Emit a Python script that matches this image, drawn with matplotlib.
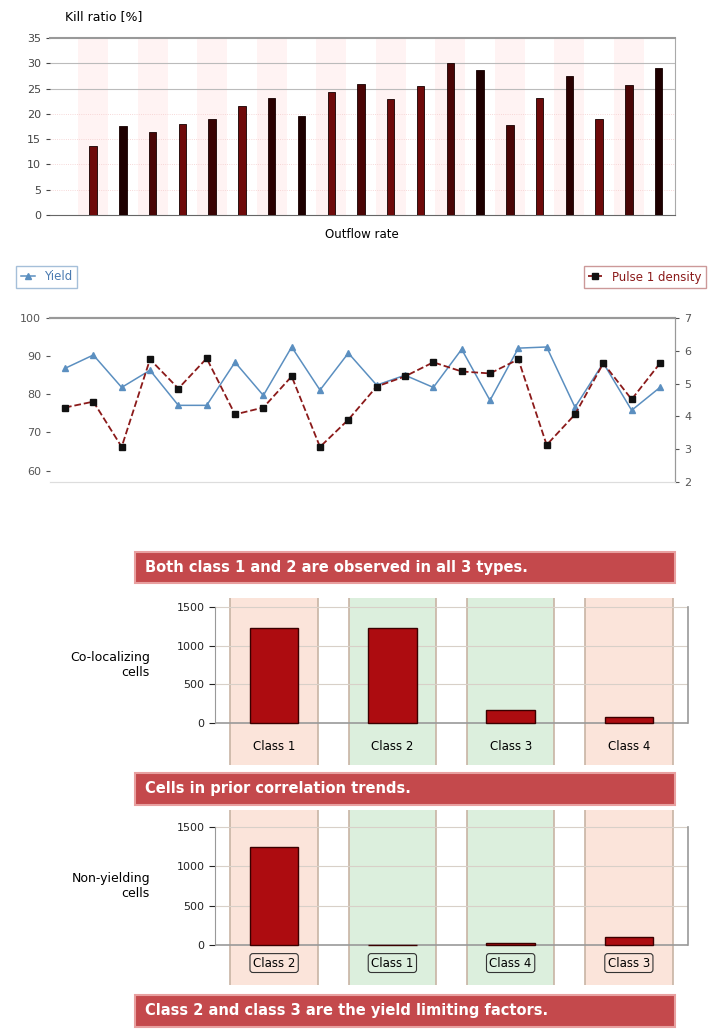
import matplotlib.pyplot as plt
from matplotlib.patches import Rectangle
import numpy as np

# top chart: kill ratio per sample
kill_ratio = [13.6, 17.6, 16.4, 18.0, 19.0, 21.6, 23.2, 19.6, 24.4, 26.0,
              23.0, 25.6, 30.0, 28.6, 17.8, 23.2, 27.4, 19.0, 25.8, 29.0]
bar_colors = ['#6e0a0a', '#1e0000', '#4a0505', '#6e0a0a', '#3a0303', '#6e0a0a', '#2a0000',
              '#1e0000', '#6e0a0a', '#4a0505', '#6e0a0a', '#6e0a0a', '#4a0505', '#1e0000',
              '#4a0505', '#6e0a0a', '#2a0000', '#6e0a0a', '#4a0505', '#1e0000']

# middle chart: yield (left axis) and pulse 1 density (right axis)
yield_vals = [86.8, 90.3, 81.8, 86.3, 77.1, 77.1, 88.4, 79.7, 92.4, 81.1, 90.8,
              82.4, 85.0, 81.8, 91.8, 78.4, 92.1, 92.4, 76.6, 88.2, 75.8, 81.8]
density_vals = [4.27, 4.45, 3.07, 5.74, 4.85, 5.77, 4.06, 4.27, 5.22, 3.07, 3.90,
                4.91, 5.22, 5.65, 5.37, 5.31, 5.74, 3.13, 4.06, 5.62, 4.52, 5.62]

# bottom panels
classes_top = ['Class 1', 'Class 2', 'Class 3', 'Class 4']
coloc_cells = [1230, 1230, 170, 80]
classes_bot = ['Class 2', 'Class 1', 'Class 4', 'Class 3']
nonyield_cells = [1246, 0, 25, 100]
col_colors = ['#fbe4da', '#dcefdd', '#dcefdd', '#fbe4da']
banners = ['Both class 1 and 2 are observed in all 3 types.',
           'Cells in prior correlation trends.',
           'Class 2 and class 3 are the yield limiting factors.']

W, H = 720, 1029
fig = plt.figure(figsize=(7.2, 10.29), dpi=100)


def box(l, t, r, b):
    return [l / W, 1 - b / H, (r - l) / W, (b - t) / H]


# ---------- top bar chart ----------
ax1 = fig.add_axes(box(50, 38, 675, 215))
x1 = np.arange(len(kill_ratio))
ax1.bar(x1, kill_ratio, width=0.25, color=bar_colors, edgecolor='#150000', linewidth=0.6, zorder=3)
ax1.set_xlim(-1.45, 19.55)
ax1.set_ylim(0, 35)
ax1.set_yticks(range(0, 36, 5))
ax1.tick_params(axis='y', labelsize=8, length=3, colors='#444444')
ax1.set_xticks([])
for y in [25, 30]:
    ax1.axhline(y, color='#bbbbbb', lw=0.8, zorder=1)
for y in [5, 10, 15, 20]:
    ax1.axhline(y, color='#f4cccc', lw=0.6, ls=':', zorder=1)
for xi in x1:
    if xi % 2 == 0:
        ax1.axvspan(xi - 0.5, xi + 0.5, color='#fff3f3', zorder=0, lw=0)
ax1.spines['left'].set_visible(False)
ax1.spines['top'].set_color('#999999')
ax1.spines['top'].set_linewidth(1.5)
ax1.spines['bottom'].set_color('#666666')
ax1.spines['right'].set_color('#aaaaaa')
fig.text(65 / W, 1 - 17 / H, 'Kill ratio [%]', fontsize=9, va='center')
fig.text(362 / W, 1 - 235 / H, 'Outflow rate', fontsize=8.5, ha='center', va='center')

# ---------- middle line chart ----------
ax2 = fig.add_axes(box(50, 318, 675, 482))
x2 = np.arange(len(yield_vals))
l1, = ax2.plot(x2, yield_vals, '-^', color='#5b8fc0', ms=4, lw=1.1, label='Yield', zorder=3)
ax2.set_ylim(57, 100)
ax2.set_yticks([60, 70, 80, 90, 100])
ax2.set_xlim(-0.53, 21.53)
ax2.set_xticks([])
ax2.tick_params(axis='y', labelsize=8, length=3, colors='#555555')
ax2b = ax2.twinx()
l2, = ax2b.plot(x2, density_vals, '--s', color='#8b1a1a', mfc='#111111', mec='#111111',
                ms=4, lw=1.3, label='Pulse 1 density', zorder=4)
ax2b.set_ylim(2, 7)
ax2b.set_yticks(range(2, 8))
ax2b.tick_params(axis='y', labelsize=8, length=3, colors='#555555')
for a in [ax2, ax2b]:
    a.spines['top'].set_color('#999999')
    a.spines['top'].set_linewidth(1.5)
    a.spines['left'].set_visible(False)
    a.spines['bottom'].set_color('#dddddd')
    a.spines['right'].set_color('#999999')
fig.legend(handles=[l1], loc='center left', bbox_to_anchor=(10 / W, 1 - 277 / H),
           fontsize=8.5, frameon=True, edgecolor='#8fb0d0', fancybox=False, handlelength=1.2,
           labelcolor='#4a7ab0')
fig.legend(handles=[l2], loc='center right', bbox_to_anchor=(712 / W, 1 - 277 / H),
           fontsize=8.5, frameon=True, edgecolor='#c08080', fancybox=False, handlelength=1.2,
           labelcolor='#8b1a1a')


# ---------- bottom panels ----------
def panel(rect, ylo, yhi, label_y, values, cats, ylabel, boxed):
    ax = fig.add_axes(rect)
    xs = np.arange(len(values))
    for i, c in enumerate(col_colors):
        ax.axvspan(i - 0.37, i + 0.37, color=c, zorder=0, lw=0)
        ax.axvline(i - 0.37, color='#c8b4a4', lw=1.2, zorder=1)
        ax.axvline(i + 0.37, color='#c8b4a4', lw=1.2, zorder=1)
    for y in [500, 1000, 1500]:
        ax.axhline(y, color='#d8d0c8', lw=0.8, zorder=1)
    ax.axhline(0, color='#999999', lw=1.2, zorder=2)
    ax.bar(xs, values, width=0.41, color='#ad0c10', edgecolor='#3a0000', linewidth=1.0, zorder=3)
    for i, c in enumerate(cats):
        bb = dict(boxstyle='round,pad=0.25', fc='none', ec='#333333', lw=0.8) if boxed else None
        ax.text(i, label_y, c, ha='center', va='center', fontsize=8.5, bbox=bb, zorder=4)
    ax.set_xlim(-0.5, 3.5)
    ax.set_ylim(ylo, yhi)
    ax.set_xticks([])
    ax.set_yticks([0, 500, 1000, 1500])
    ax.tick_params(axis='y', labelsize=8, length=4, colors='#222222')
    for s in ['top', 'bottom']:
        ax.spines[s].set_visible(False)
    ax.spines['left'].set_bounds(0, 1500)
    ax.spines['left'].set_color('#999999')
    ax.spines['right'].set_bounds(0, 1500)
    ax.spines['right'].set_color('#999999')
    ax.spines['right'].set_linewidth(1.2)
    fig.text(150 / W, rect[1] + rect[3] * (1500 * 0.5 - ylo) / (yhi - ylo), ylabel,
             ha='right', va='center', fontsize=9)
    return ax


panel(box(215, 598, 688, 765), -543, 1616, -300, coloc_cells, classes_top,
      'Co-localizing\ncells', False)
panel(box(215, 810, 688, 985), -508, 1717, -229, nonyield_cells, classes_bot,
      'Non-yielding\ncells', True)

# banners
for (t, b), txt in zip([(552, 583), (773, 805), (995, 1027)], banners):
    fig.add_artist(Rectangle((135 / W, 1 - b / H), 540 / W, (b - t) / H,
                             transform=fig.transFigure, fc='#c4494c', ec='#e8a0a0', lw=1.5))
    fig.text(145 / W, 1 - (t + b) / 2 / H, txt, color='white', fontsize=10.5,
             fontweight='bold', va='center')

plt.savefig('out.png', dpi=100)
